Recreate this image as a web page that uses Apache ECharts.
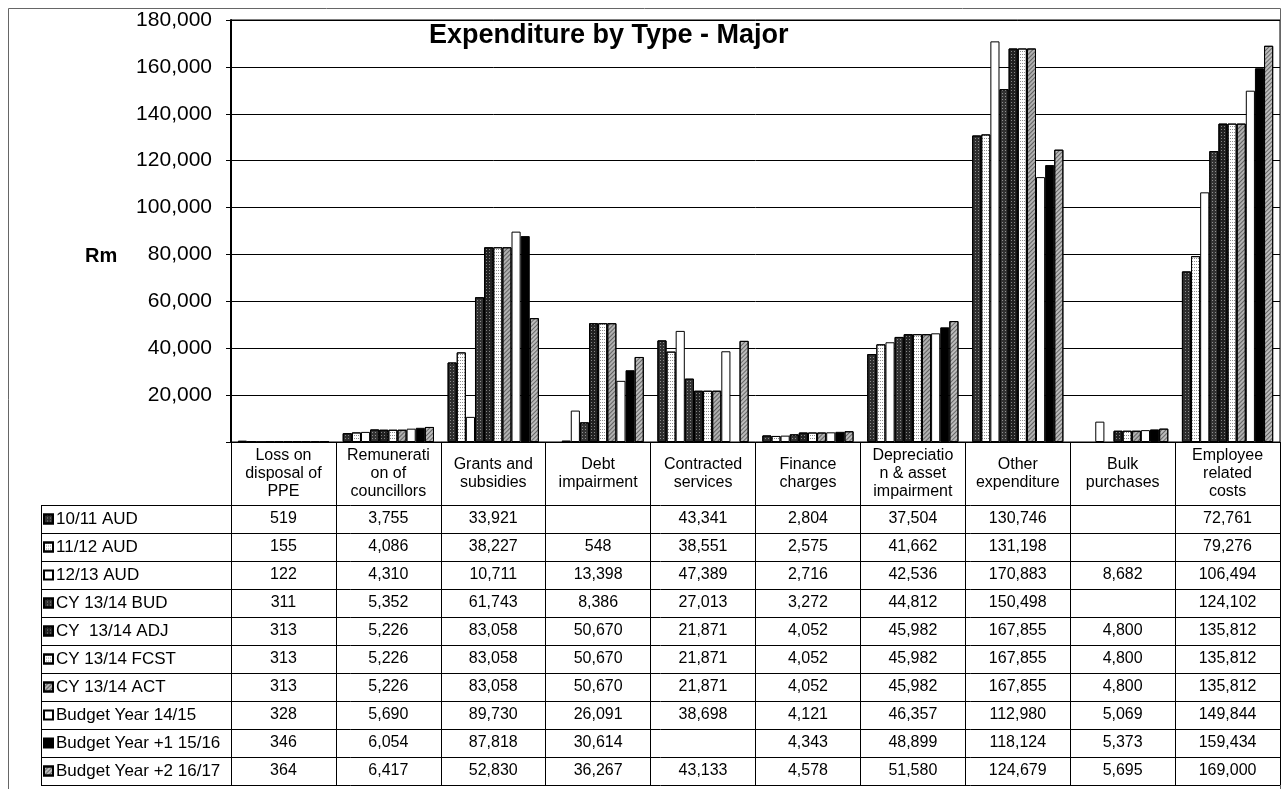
<!DOCTYPE html>
<html>
<head>
<meta charset="utf-8">
<title>Expenditure by Type - Major</title>
<script src="https://cdn.jsdelivr.net/npm/echarts@6/dist/echarts.min.js"></script>
<style>
  html, body { margin: 0; padding: 0; background: #fff; }
  #chart { width: 1283px; height: 789px; }
</style>
</head>
<body>
<div id="chart"></div>
<script>
// Expense categories (header labels of the data table, wrapped as printed)
const categories = [
  'Loss on\ndisposal of\nPPE',
  'Remunerati\non of\ncouncillors',
  'Grants and\nsubsidies',
  'Debt\nimpairment',
  'Contracted\nservices',
  'Finance\ncharges',
  'Depreciatio\nn & asset\nimpairment',
  'Other\nexpenditure',
  'Bulk\npurchases',
  'Employee\nrelated\ncosts'
];

// Series names (one per table row)
const seriesNames = [
  '10/11 AUD',
  '11/12 AUD',
  '12/13 AUD',
  'CY 13/14 BUD',
  'CY  13/14 ADJ',
  'CY 13/14 FCST',
  'CY 13/14 ACT',
  'Budget Year 14/15',
  'Budget Year +1 15/16',
  'Budget Year +2 16/17'
];

// Values in Rm per category; null = empty cell
const aud1011   = [519, 3755, 33921, null, 43341, 2804, 37504, 130746, null, 72761];
const aud1112   = [155, 4086, 38227, 548, 38551, 2575, 41662, 131198, null, 79276];
const aud1213   = [122, 4310, 10711, 13398, 47389, 2716, 42536, 170883, 8682, 106494];
const cyBud     = [311, 5352, 61743, 8386, 27013, 3272, 44812, 150498, null, 124102];
const cyAdj     = [313, 5226, 83058, 50670, 21871, 4052, 45982, 167855, 4800, 135812];
const cyFcst    = [313, 5226, 83058, 50670, 21871, 4052, 45982, 167855, 4800, 135812];
const cyAct     = [313, 5226, 83058, 50670, 21871, 4052, 45982, 167855, 4800, 135812];
const budget1415 = [328, 5690, 89730, 26091, 38698, 4121, 46357, 112980, 5069, 149844];
const budget1516 = [346, 6054, 87818, 30614, null, 4343, 48899, 118124, 5373, 159434];
const budget1617 = [364, 6417, 52830, 36267, 43133, 4578, 51580, 124679, 5695, 169000];

const seriesValues = [aud1011, aud1112, aud1213, cyBud, cyAdj, cyFcst, cyAct,
                      budget1415, budget1516, budget1617];

// Y axis scale
const yMin = 0, yMax = 180000, yStep = 20000;

// Monochrome print patterns: base fill + texture
const darkSpeckle = { symbol: 'rect', symbolSize: 1, dashArrayX: [1, 2], dashArrayY: [1, 2], color: 'rgba(255,255,255,0.45)' };
const lightDots   = { symbol: 'rect', symbolSize: 1, dashArrayX: [1, 1], dashArrayY: [1, 2], color: 'rgba(0,0,0,0.45)' };
const hatch       = { symbol: 'rect', symbolSize: 1, dashArrayX: [1, 0], dashArrayY: [1, 2], rotation: -Math.PI / 4, color: 'rgba(0,0,0,0.45)' };
const styles = [
  { color: '#2e2e2e', decal: darkSpeckle },
  { color: '#ffffff', decal: lightDots },
  { color: '#ffffff', decal: null },
  { color: '#333333', decal: darkSpeckle },
  { color: '#222222', decal: darkSpeckle },
  { color: '#ffffff', decal: lightDots },
  { color: '#b0b0b0', decal: hatch },
  { color: '#ffffff', decal: null },
  { color: '#000000', decal: null },
  { color: '#bcbcbc', decal: hatch }
];

const FONT = "'Liberation Sans', Arial, sans-serif";
const fmt = v => (v == null ? '' : String(v).replace(/\B(?=(\d{3})+(?!\d))/g, ','));

// Layout of the plot and the table under it
const G = { left: 231, top: 20, width: 1049, height: 422 };
const plotBottom = G.top + G.height;
const headerH = 63;
const rowH = 28;
const tableLeft = 41;
const tableTop = plotBottom + headerH;
const tableBottom = tableTop + rowH * seriesNames.length;
const legendFont = 17;

const chart = echarts.init(document.getElementById('chart'), null, { renderer: 'canvas' });

// Main category axis: header labels + column dividers (ticks run down the table)
const xAxes = [{
  type: 'category',
  data: categories,
  gridIndex: 0,
  position: 'bottom',
  boundaryGap: true,
  axisLine: { show: true, lineStyle: { color: '#000', width: 1 } },
  axisTick: { show: true, length: tableBottom - plotBottom, lineStyle: { color: '#000', width: 1 } },
  axisLabel: {
    interval: 0, margin: headerH / 2, verticalAlign: 'middle', align: 'center',
    fontFamily: FONT, fontSize: 16, lineHeight: 18, color: '#000'
  }
}];

// One extra axis per table row, its labels showing that row's values
seriesValues.forEach((vals, i) => {
  xAxes.push({
    type: 'category',
    data: categories,
    gridIndex: 0,
    position: 'bottom',
    offset: headerH + rowH * i + rowH / 2,
    boundaryGap: true,
    axisLine: { show: false },
    axisTick: { show: false },
    splitLine: { show: false },
    axisLabel: {
      interval: 0, margin: 0, verticalAlign: 'middle', align: 'center',
      fontFamily: FONT, fontSize: 16, color: '#000',
      formatter: (v, idx) => fmt(vals[idx])
    }
  });
});

const series = seriesValues.map((vals, i) => ({
  name: seriesNames[i],
  type: 'bar',
  xAxisIndex: 0,
  data: vals,
  barGap: '0%',
  barCategoryGap: '13%',
  itemStyle: Object.assign(
    { color: styles[i].color, borderColor: '#000', borderWidth: 1 },
    styles[i].decal ? { decal: styles[i].decal } : {}
  )
}));

// Table rules and outer frame
const graphics = [];
for (let i = 0; i <= seriesNames.length; i++) {
  const y = Math.round(tableTop + rowH * i) + 0.5;
  graphics.push({
    type: 'line', silent: true,
    shape: { x1: tableLeft, y1: y, x2: G.left + G.width, y2: y },
    style: { stroke: '#000', lineWidth: 1 }
  });
}
graphics.push({
  type: 'line', silent: true,
  shape: { x1: tableLeft + 0.5, y1: tableTop, x2: tableLeft + 0.5, y2: Math.round(tableBottom) + 1 },
  style: { stroke: '#000', lineWidth: 1 }
});
graphics.push({
  type: 'rect', silent: true,
  shape: { x: 8.5, y: 8.5, width: 1272, height: 800 },
  style: { fill: null, stroke: '#666', lineWidth: 1 }
});
graphics.push({
  type: 'text', silent: true, left: 85, top: 246,
  style: { text: 'Rm', font: "bold 20px " + FONT, fill: '#000' }
});

chart.setOption({
  animation: false,
  backgroundColor: '#fff',
  title: {
    text: 'Expenditure by Type - Major',
    left: 424, top: 17,
    textStyle: { fontFamily: FONT, fontSize: 27, fontWeight: 'bold', color: '#000' }
  },
  legend: {
    data: seriesNames,
    orient: 'vertical',
    left: tableLeft + 2,
    top: tableTop + (rowH - legendFont) / 2,
    padding: 0,
    icon: 'rect',
    itemWidth: 9, itemHeight: 9,
    itemGap: rowH - legendFont,
    selectedMode: false,
    textStyle: { fontFamily: FONT, fontSize: legendFont, lineHeight: legendFont, color: '#000', padding: [0, 0, 0, -2] }
  },
  grid: {
    left: G.left, top: G.top, width: G.width, height: G.height,
    show: true, borderColor: '#000', borderWidth: 1, containLabel: false
  },
  xAxis: xAxes,
  yAxis: {
    type: 'value',
    min: yMin, max: yMax, interval: yStep,
    axisLine: { show: true, lineStyle: { color: '#000', width: 2 } },
    axisTick: { show: true, length: 5, lineStyle: { color: '#000' } },
    splitLine: { show: true, lineStyle: { color: '#000', width: 1 } },
    axisLabel: {
      margin: 19, fontFamily: FONT, fontSize: 21, color: '#000',
      formatter: v => (v === 0 ? '' : fmt(v))
    }
  },
  graphic: graphics,
  series: series
});
</script>
</body>
</html>
